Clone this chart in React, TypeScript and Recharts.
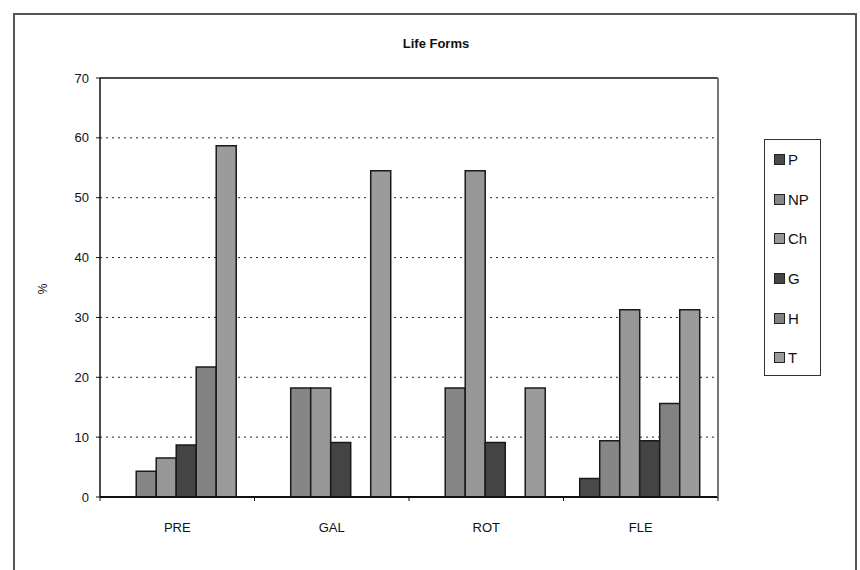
import React from "react";
import {
  BarChart,
  Bar,
  XAxis,
  YAxis,
  CartesianGrid,
  ReferenceLine,
} from "recharts";

const sites = ["PRE", "GAL", "ROT", "FLE"];
const forms = ["P", "NP", "Ch", "G", "H", "T"];
const pValues = [0, 0, 0, 3.1];
const npValues = [4.3, 18.2, 18.2, 9.4];
const chValues = [6.5, 18.2, 54.5, 31.3];
const gValues = [8.7, 9.1, 9.1, 9.4];
const hValues = [21.7, 0, 0, 15.6];
const tValues = [58.7, 54.5, 18.2, 31.3];
const yTicks = [0, 10, 20, 30, 40, 50, 60, 70];

const colors = ["#4a4a4a", "#868686", "#979797", "#444444", "#828282", "#9b9b9b"];
const seriesValues = [pValues, npValues, chValues, gValues, hValues, tValues];

const data = sites.map((site, i) => {
  const row: Record<string, string | number> = { site };
  forms.forEach((f, j) => {
    row[f] = seriesValues[j][i];
  });
  return row;
});

const W = 860;
const H = 570;
const plotLeft = 100;
const plotRight = 718;
const plotTop = 78;
const plotBottom = 497;
const halfBand = (plotRight - plotLeft) / sites.length / 2;
const font = "'Liberation Sans', Arial, sans-serif";

function SiteTick(props: any) {
  const { x, y, payload, index } = props;
  return (
    <g>
      {index === 0 && (
        <line x1={x - halfBand} x2={x - halfBand} y1={y} y2={y + 4} stroke="#111" />
      )}
      <line x1={x + halfBand} x2={x + halfBand} y1={y} y2={y + 4} stroke="#111" />
      <text
        x={x}
        y={y + 30}
        textAnchor="middle"
        dominantBaseline="central"
        fontSize={13}
        fill="#111"
        fontFamily={font}
      >
        {payload.value}
      </text>
    </g>
  );
}

function LegendBox() {
  return (
    <div
      style={{
        position: "absolute",
        left: 764,
        top: 139,
        width: 57,
        height: 237,
        border: "1px solid #333",
        boxSizing: "border-box",
        background: "#fff",
        paddingTop: 0,
      }}
    >
      {forms.map((f, j) => (
        <div
          key={f}
          style={{ display: "flex", alignItems: "center", height: 39.6, paddingLeft: 9 }}
        >
          <span
            style={{
              display: "inline-block",
              width: 9,
              height: 9,
              background: colors[j],
              border: "1px solid #222",
              marginRight: 3,
            }}
          />
          <span style={{ fontSize: 15, color: "#111", fontFamily: font }}>{f}</span>
        </div>
      ))}
    </div>
  );
}

export default function App() {
  return (
    <div
      style={{
        position: "fixed",
        left: 0,
        top: 0,
        width: W,
        height: H,
        overflow: "hidden",
        background: "#fff",
        fontFamily: font,
      }}
    >
      <div
        style={{
          position: "absolute",
          left: 13,
          top: 13,
          width: 844,
          height: 600,
          border: "2px solid #555",
          boxSizing: "border-box",
        }}
      />
      <div
        style={{
          position: "absolute",
          left: 336,
          width: 200,
          top: 36,
          textAlign: "center",
          fontSize: 13,
          fontWeight: "bold",
          color: "#111",
        }}
      >
        Life Forms
      </div>
      <div
        style={{
          position: "absolute",
          left: 38,
          top: 282,
          fontSize: 12,
          color: "#111",
          transform: "rotate(-90deg)",
        }}
      >
        %
      </div>
      <div style={{ position: "absolute", left: 0, top: 0 }}>
        <BarChart
          width={W}
          height={H}
          data={data}
          margin={{ top: plotTop, left: plotLeft - 40, right: W - plotRight - 2, bottom: H - plotBottom - 30 }}
          barGap={0}
          barCategoryGap="10.5%"
        >
          <CartesianGrid
            yAxisId="left"
            vertical={false}
            stroke="#222"
            strokeDasharray="2 4"
            horizontalValues={[10, 20, 30, 40, 50, 60]}
          />
          <XAxis
            dataKey="site"
            height={30}
            tickLine={false}
            tickSize={0}
            tickMargin={0}
            axisLine={{ stroke: "#111", strokeWidth: 2 }}
            tick={<SiteTick />}
            interval={0}
          />
          <YAxis
            yAxisId="left"
            width={40}
            domain={[0, 70]}
            ticks={yTicks}
            interval={0}
            tickSize={4}
            tickMargin={7}
            axisLine={{ stroke: "#111", strokeWidth: 1.5 }}
            tickLine={{ stroke: "#111" }}
            tick={{ fontSize: 13, fill: "#111", fontFamily: font }}
          />
          <YAxis
            yAxisId="right"
            orientation="right"
            width={2}
            domain={[0, 70]}
            tick={false}
            tickLine={false}
            axisLine={{ stroke: "#777", strokeWidth: 2 }}
          />
          <ReferenceLine yAxisId="left" y={70} stroke="#111" strokeWidth={1.5} />
          {forms.map((f, j) => (
            <Bar
              key={f}
              yAxisId="left"
              dataKey={f}
              name={f}
              fill={colors[j]}
              stroke="#1a1a1a"
              strokeWidth={1.5}
              isAnimationActive={false}
            />
          ))}
        </BarChart>
      </div>
      <LegendBox />
    </div>
  );
}
